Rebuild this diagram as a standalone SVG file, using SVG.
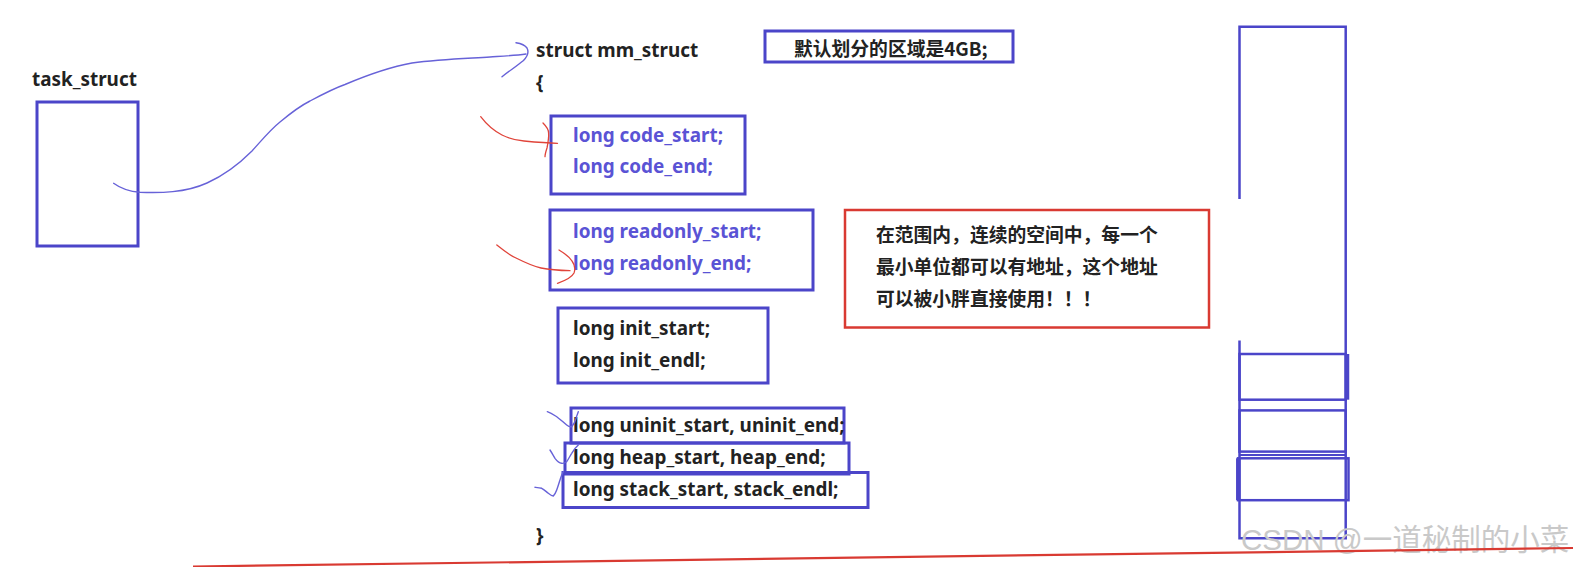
<svg xmlns="http://www.w3.org/2000/svg" width="1573" height="567" viewBox="0 0 1573 567">
<style>
.t{font-family:"Noto Sans","Noto Sans CJK SC",sans-serif;font-weight:bold;font-size:18.9px;fill:#222}
.b{fill:#5a53d5}
.cj{font-family:"Noto Sans CJK SC","Noto Sans",sans-serif;font-weight:bold;font-size:18.8px;fill:#222}
.box{fill:none;stroke:#4b45c9;stroke-width:3}
.rbox{fill:none;stroke:#d93a32;stroke-width:2.5}
.pen{fill:none;stroke:#6762d8;stroke-width:1.4;stroke-linecap:round;stroke-linejoin:round}
.rpen{fill:none;stroke:#e0443a;stroke-width:1.3;stroke-linecap:round;stroke-linejoin:round}
.col{fill:none;stroke:#4b45c9;stroke-width:2.5}
</style>
<rect width="1573" height="567" fill="#ffffff"/>
<g id="task_struct">
<text class="t" x="32" y="86">task_struct</text>
<rect class="box" x="37" y="102" width="101" height="144"/>
</g>
<g id="mm_struct_head">
<text class="t" x="536" y="57">struct mm_struct</text>
<text class="t" x="536" y="89">{</text>
<text class="t" x="536" y="542">}</text>
</g>
<g id="note_4gb">
<rect class="box" x="765" y="31" width="248" height="31"/>
<text class="cj" x="794" y="56">默认划分的区域是4GB;</text>
</g>
<g id="code">
<rect class="box" x="551" y="116" width="194" height="78"/>
<text class="t b" x="573" y="141.5">long code_start;</text>
<text class="t b" x="573" y="173">long code_end;</text>
</g>
<g id="readonly">
<rect class="box" x="550" y="210" width="263" height="80"/>
<text class="t b" x="573" y="238">long readonly_start;</text>
<text class="t b" x="573" y="270">long readonly_end;</text>
</g>
<g id="init">
<rect class="box" x="558" y="308" width="210" height="75"/>
<text class="t" x="573" y="335">long init_start;</text>
<text class="t" x="573" y="367">long init_endl;</text>
</g>
<g id="uninit">
<rect class="box" x="571" y="408" width="273" height="35"/>
<text class="t" x="573" y="431.5">long uninit_start, uninit_end;</text>
</g>
<g id="heap">
<rect class="box" x="565" y="443" width="284" height="31"/>
<text class="t" x="573" y="464">long heap_start, heap_end;</text>
</g>
<g id="stack">
<rect class="box" x="563" y="472.5" width="305" height="35"/>
<text class="t" x="573" y="496">long stack_start, stack_endl;</text>
</g>
<g id="note_red">
<rect class="rbox" x="845" y="210" width="364" height="117.5"/>
<text class="cj" x="876" y="242">在范围内，连续的空间中，每一个</text>
<text class="cj" x="876" y="274">最小单位都可以有地址，这个地址</text>
<text class="cj" x="876" y="305.5">可以被小胖直接使用！！！</text>
</g>
<g id="memory_column">
<path class="col" d="M1239.5 199 V26.7 H1345.7 V538.2 H1239.5 V340.4"/>
<rect class="col" x="1239.5" y="354" width="106.2" height="45.7"/>
<line x1="1347.5" y1="354" x2="1347.5" y2="399.7" stroke="#4b45c9" stroke-width="3.5"/>
<rect class="col" x="1239.5" y="410.4" width="106.2" height="41.2"/>
<line x1="1239.5" y1="455" x2="1345.7" y2="455" stroke="#4b45c9" stroke-width="2"/>
<rect class="col" x="1238" y="458.3" width="110.5" height="41.9"/>
<line x1="1238.3" y1="458.3" x2="1238.3" y2="500.2" stroke="#4b45c9" stroke-width="4.5"/>
</g>
<g id="watermark">
<text x="1241" y="550" font-family="Liberation Sans, Noto Sans CJK SC, sans-serif" font-size="29.5" fill="#c9c9c9">CSDN @一道秘制的小菜</text>
</g>
<g id="connectors">
<path class="pen" d="M113.6 183.3 C120 188 128 191.5 140 192.3 C160 193 185 193 207 183 C225 175 240 163 252 151 C262 140 270 130 280 122 C292 112 300 106 310 101 C325 93 335 88 345 84.5 C365 76 390 67 412 63 C440 59 465 58.5 490 57 C505 56 515 55.5 526 54"/>
<path class="pen" d="M516 42.7 C521 43.5 525 45 527 48 C529 52 527 57 523.5 60.5 C517 66 509 71 502 76.7"/>
<path class="rpen" d="M480.7 116.7 C487 125 494 131 502 135 C510 139 517 140.5 524 141 C535 142 547 143 557.5 143.3"/>
<path class="rpen" d="M543 123 C546 126 548.6 129 548.6 133 C549 138 548 143 547 148 C546 151 545 154 545 156.7"/>
<path class="rpen" d="M496.8 245 C503 250 509 255 516 258 C524 262 532 266 541 268 C551 270 561 270.5 570 270.7"/>
<path class="rpen" d="M559 250 C564 253 569 256 572 261 C575 265 575.5 269 574 273 C572 277 567 280 557.5 283.3"/>
<path class="pen" d="M547.3 411.7 C551 413 554 415 556.7 416.7 C560 419 563 422 566.7 425 C568.5 426.5 570 427 571.7 426.7 C574 424 575.5 421 576 418.3 C577 415 578 413 578.3 411.7"/>
<path class="pen" d="M550 450 C552 453 553.5 456 555 458.3 C557 461 559.5 463 561.7 463.3 C563.5 463.5 565 463 566.7 461.7 C568.5 459 570 456 571.7 453.3 C573.5 450 576 447 578.3 445"/>
<path class="pen" d="M535 487.3 C537 487.5 539.5 487.7 541.7 488.3 C544 489.5 546 491.5 548.3 493.3 C550 494.7 552 496 553.3 496 C555 494 556 492 556.7 490 C558 486.5 559 483 560 480 C561 477 562 474 563.3 471.7"/>
<path d="M193 566.5 L1573 548" fill="none" stroke="#d93a32" stroke-width="2.2"/>
</g>
</svg>
